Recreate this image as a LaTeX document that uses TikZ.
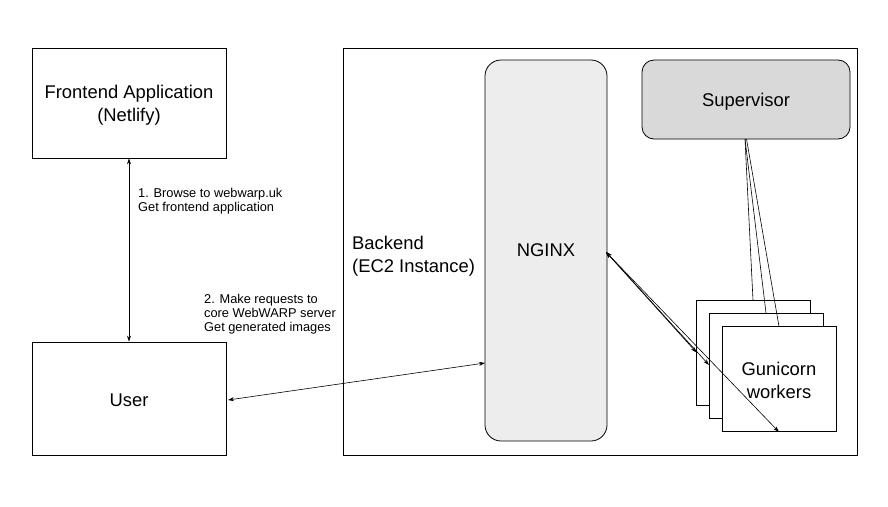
\documentclass[tikz,border=0pt]{standalone}
\usepackage{fontspec}
\setmainfont{Liberation Sans}
\usetikzlibrary{arrows.meta}
\begin{document}
\begin{tikzpicture}[x=1pt,y=-1pt,
  box/.style={draw=black,line width=0.8pt,fill=white},
  big/.style={font=\fontsize{18.4}{23}\selectfont,align=center},
  lbl/.style={font=\fontsize{12.8}{13.8}\selectfont,align=left,anchor=north west,inner sep=0pt},
  conn/.style={line width=0.6pt,{Stealth[length=6pt,width=4pt]}-{Stealth[length=6pt,width=4pt]}},
  plain/.style={line width=0.6pt}]
\useasboundingbox (0,0) rectangle (888,506);
\fill[white] (0,0) rectangle (888,506);
% boxes
\node[box,minimum width=194pt,minimum height=110pt] (front) at (129,103) {};
\node[big] (fronttext) at (129,105) {Frontend Application\\(Netlify)};
\node[box,minimum width=194pt,minimum height=113pt] (user) at (129,398.5) {};
\node[big] (usertext) at (129,400.5) {User};
\node[box,minimum width=514pt,minimum height=407pt,inner sep=0pt] (backend) at (600,251.5) {};
\node[big,align=left,anchor=north west,inner sep=0pt] (blabel) at (352,236) {Backend\\(EC2 Instance)};
\node[box,fill=black!7,rounded corners=16pt,minimum width=122pt,minimum height=381pt,big] (nginx) at (546,250.5) {NGINX};
\node[box,fill=black!15,rounded corners=12pt,minimum width=208pt,minimum height=79pt] (sup) at (746,99.5) {};
\node[big] (suptext) at (746,101.5) {Supervisor};
\node[box,minimum width=114pt,minimum height=105pt] (g1) at (753,353) {};
\node[box,minimum width=114pt,minimum height=105pt] (g2) at (766,365.5) {};
\node[box,minimum width=114pt,minimum height=105pt] (g3) at (779,379) {};
\node[big] (g3text) at (779,380.5) {Gunicorn\\workers};
% labels
\node[lbl] (l1) at (138,188.5) {1. Browse to webwarp.uk\\Get frontend application};
\node[lbl] (l2) at (204,294) {2. Make requests to\\core WebWARP server\\Get generated images};
% connectors
\draw[conn] (front.south) -- (user.north);
\coordinate (ua) at (228,400);
\coordinate (na) at (485,363);
\draw[conn] (ua) -- (na);
\coordinate (ns) at (606,252);
\coordinate (e1) at (696.5,352.5);
\coordinate (e2) at (709,365);
\coordinate (e3) at (779,432);
\draw[conn] (ns) -- (e1);
\draw[conn] (ns) -- (e2);
\draw[conn] (ns) -- (e3);
\coordinate (s1) at (745,139);
\coordinate (s2) at (746.5,139);
\draw[plain] (s1) -- (753,300.5);
\draw[plain] (s1) -- (766,313);
\draw[plain] (s2) -- (779,326.5);
\end{tikzpicture}
\end{document}
